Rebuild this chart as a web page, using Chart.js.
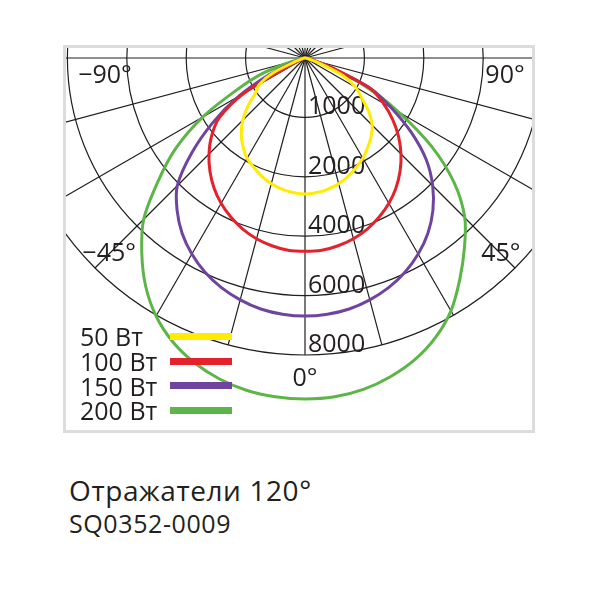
<!DOCTYPE html>
<html lang="ru">
<head>
    <meta charset="UTF-8">
    <title>Отражатели 120°</title>
    <script src="https://cdn.jsdelivr.net/npm/chart.js"></script>
    <style>
        body {
            margin: 0;
            width: 600px;
            height: 600px;
            position: relative;
            overflow: hidden;
            background: #fff;
            font-family: 'Open Sans', sans-serif;
            color: #231f20;
        }

        .frame {
            position: absolute;
            left: 63px;
            top: 45px;
            width: 472px;
            height: 388px;
            border: 3px solid #dcdcdc;
            box-sizing: border-box;
            overflow: hidden;
        }

        #diagram {
            position: absolute;
            left: -131px;
            top: -360px;
        }

        .legend {
            position: absolute;
            left: 80px;
            top: 324px;
        }

        .legend-row {
            display: flex;
            align-items: center;
            height: 24.7px;
        }

        .legend-row span {
            width: 90px;
            font-size: 25px;
            line-height: 24px;
        }

        .legend-row i {
            display: block;
            width: 62px;
            height: 7px;
        }

        .title {
            position: absolute;
            left: 69px;
            top: 473px;
            font-size: 28px;
            letter-spacing: 0.6px;
            line-height: 34px;
        }

        .code {
            position: absolute;
            left: 69px;
            top: 508px;
            font-size: 25px;
            letter-spacing: 0.6px;
            line-height: 30px;
        }
    </style>
</head>
<body>
    <div class="frame">
        <canvas id="diagram" width="740" height="740"></canvas>
    </div>
    <div class="legend" id="legend"></div>
    <div class="title">Отражатели 120°</div>
    <div class="code">SQ0352-0009</div>

    <script>
        // angle from the vertical, degrees (left side negative)
        const angles = [-90, -85, -80, -75, -70, -65, -60, -55, -50, -45, -40, -35, -30, -25, -20, -15, -10, -5,
            0, 5, 10, 15, 20, 25, 30, 35, 40, 45, 50, 55, 60, 65, 70, 75, 80, 85, 90];

        // luminous intensity, cd
        const lamp50 = [0, 10, 20, 50, 170, 590, 890, 1010, 1250, 1480, 1670, 1820, 1950, 2070, 2240, 2380, 2480, 2545,
            2580, 2545, 2480, 2380, 2240, 2070, 1950, 1840, 1730, 1600, 1400, 1160, 980, 710, 250, 80, 30, 10, 0];
        const lamp100 = [0, 10, 20, 30, 70, 200, 1180, 1770, 2110, 2570, 2980, 3340, 3650, 3910, 4130, 4300, 4420, 4500,
            4510, 4500, 4420, 4300, 4130, 3910, 3650, 3340, 2980, 2570, 2110, 1800, 1520, 1210, 500, 130, 30, 10, 0];
        const lamp150 = [0, 10, 20, 70, 240, 670, 1280, 1890, 2980, 4080, 4700, 5210, 5620, 5960, 6230, 6430, 6580, 6660,
            6690, 6660, 6580, 6430, 6230, 5960, 5620, 5210, 4700, 4080, 3330, 2370, 1680, 1230, 470, 120, 30, 10, 0];
        const lamp200 = [0, 10, 70, 250, 760, 1260, 1990, 3320, 4460, 5680, 6550, 7360, 8030, 8540, 8910, 9180, 9360, 9450,
            9480, 9450, 9330, 9110, 8810, 8390, 7830, 7090, 6350, 5610, 4570, 3220, 1820, 1110, 370, 100, 30, 10, 0];

        const seriesNames = ['50 Вт', '100 Вт', '150 Вт', '200 Вт'];
        const seriesColors = ['#ffec00', '#e3222b', '#6f449f', '#5cb547'];

        // rings of the diagram and their labels
        const ringValues = [0, 1000, 2000, 4000, 6000, 8000];
        const ringLabels = ['', '1000', '2000', '4000', '6000', '8000'];
        const angleMarks = [-90, -45, 0, 45, 90];
        const angleMarkLabels = ['\u221290°', '\u221245°', '0°', '45°', '90°'];

        // cd -> ring position (rings are evenly spaced but labelled unevenly)
        function toRing(cd) {
            let k = 1;
            while (k < ringValues.length - 1 && cd > ringValues[k]) k++;
            const a = ringValues[k - 1], b = ringValues[k];
            return (k - 1) + (cd - a) / (b - a);
        }

        // full circle every 5 deg, index 0 points down, going clockwise (to the left)
        const circleAngles = [];
        for (let i = 0; i < 72; i++) {
            let a = -5 * i;
            if (a < -180) a += 360;
            circleAngles.push(a);
        }

        function indexOfAngle(a) {
            return a <= 0 ? -a / 5 : (360 - a) / 5;
        }

        function fullCircle(values) {
            return circleAngles.map(a => {
                const k = angles.indexOf(a);
                return k < 0 ? 0 : toRing(values[k]);
            });
        }

        const series = [lamp50, lamp100, lamp150, lamp200];

        const diagramLabels = {
            id: 'diagramLabels',
            beforeDatasetsDraw(chart) {
                const r = chart.scales.r;
                const c = chart.ctx;
                c.save();
                c.fillStyle = '#231f20';
                c.font = '25px "Open Sans"';
                c.textAlign = 'left';
                c.textBaseline = 'alphabetic';
                ringLabels.forEach((t, k) => {
                    if (!t) return;
                    const p = r.getPointPositionForValue(0, k);
                    c.fillText(t, p.x + 3, p.y - 3);
                });

                c.textAlign = 'center';
                c.textBaseline = 'middle';
                angleMarks.forEach((a, k) => {
                    const dist = Math.abs(a) === 90 ? 200 : (a === 0 ? 321 : 277);
                    const p = r.getPointPosition(indexOfAngle(a), dist);
                    const dy = Math.abs(a) === 90 ? 18 : 0;
                    c.fillText(angleMarkLabels[k], p.x, p.y + dy);
                });
                c.restore();
            }
        };

        const ctx = document.getElementById('diagram').getContext('2d');
        const diagram = new Chart(ctx, {
            type: 'radar',
            data: {
                labels: circleAngles,
                datasets: series.map((values, k) => ({
                    label: seriesNames[k],
                    data: fullCircle(values),
                    borderColor: seriesColors[k],
                    borderWidth: 3,
                    fill: false,
                    clip: false,
                    tension: 0.3
                }))
            },
            options: {
                responsive: false,
                animation: false,
                layout: { padding: 73 },
                elements: {
                    point: { radius: 0, hitRadius: 0, hoverRadius: 0 }
                },
                plugins: {
                    legend: { display: false },
                    tooltip: { enabled: false }
                },
                scales: {
                    r: {
                        min: 0,
                        max: 5,
                        startAngle: 180,
                        ticks: { display: false, stepSize: 1 },
                        pointLabels: { display: false },
                        grid: { circular: true, color: '#1f1f1f', lineWidth: 1.2 },
                        angleLines: {
                            color: '#1f1f1f',
                            lineWidth: c => (c.index % 3 === 0 ? 1.2 : 0)
                        }
                    }
                }
            },
            plugins: [diagramLabels]
        });

        // legend: text then a coloured bar
        const legend = document.getElementById('legend');
        seriesNames.forEach((name, k) => {
            const row = document.createElement('div');
            row.className = 'legend-row';
            row.innerHTML = '<span>' + name + '</span><i style="background:' + seriesColors[k] + '"></i>';
            legend.appendChild(row);
        });
    </script>
</body>
</html>
